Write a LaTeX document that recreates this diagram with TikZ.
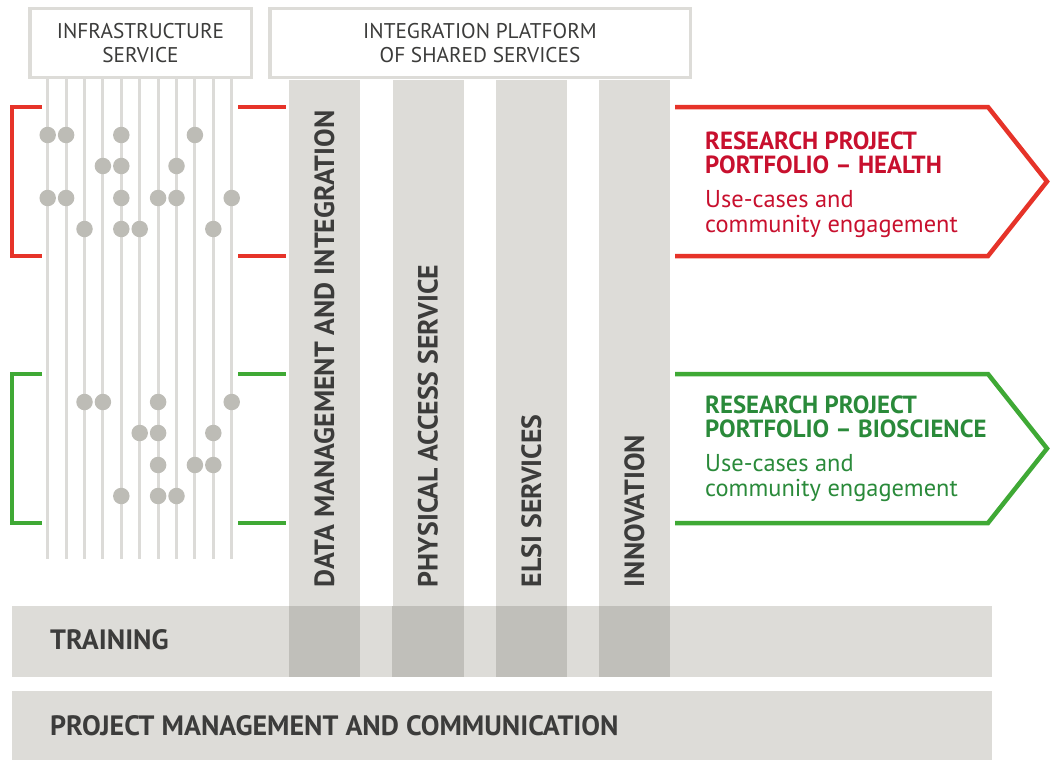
\documentclass[tikz,border=0pt]{standalone}
\usepackage{fontspec}
\setmainfont{PT Sans}
\usetikzlibrary{positioning}
\definecolor{bandgrey}{HTML}{DDDCD8}
\definecolor{overlapgrey}{HTML}{C0BFBA}
\definecolor{dotgrey}{HTML}{BDBCB6}
\definecolor{wiregrey}{HTML}{DCDBD8}
\definecolor{textgrey}{HTML}{3C3C3B}
\definecolor{healthred}{HTML}{E63329}
\definecolor{healthtext}{HTML}{C8102E}
\definecolor{bioline}{HTML}{3FA935}
\definecolor{biotext}{HTML}{2A8A3A}

\tikzset{
  topbox/.style={draw=bandgrey, line width=3.5pt, fill=white, inner sep=0pt,
    minimum height=68.5pt, align=center, text=textgrey,
    font=\fontsize{21.3}{24.5}\selectfont},
  pillar/.style={fill=bandgrey, inner sep=0pt, minimum width=71pt, minimum height=597pt},
  pillarlabel/.style={rotate=90, anchor=west, inner sep=0pt, text=textgrey,
    font=\fontsize{27.8}{30}\selectfont\bfseries},
  band/.style={fill=bandgrey, inner sep=0pt, minimum width=980pt},
  bandlabel/.style={anchor=west, inner sep=0pt, text=textgrey,
    font=\fontsize{28}{30}\selectfont\bfseries},
  wire/.style={wiregrey, line width=3pt},
  dot/.style={circle, fill=dotgrey, inner sep=0pt, minimum size=16.5pt},
  portfolio/.style={line width=4.5pt, line join=miter},
  pftitle/.style={anchor=north west, inner sep=0pt, align=left,
    font=\fontsize{24.8}{24}\selectfont\bfseries},
  pfsub/.style={anchor=north west, inner sep=0pt, align=left,
    font=\fontsize{24.4}{25}\selectfont}
}

\begin{document}
\begin{tikzpicture}[x=1pt, y=-1pt]
  \useasboundingbox (0,0) rectangle (1051,760);

  % header boxes
  \node[topbox, minimum width=221.5pt] (infra) at (140.5,43) {INFRASTRUCTURE\\SERVICE};
  \node[topbox, minimum width=420.5pt] (platform) at (480,43) {INTEGRATION PLATFORM\\OF SHARED SERVICES};

  % infrastructure wires and dots
  \foreach \i in {1,...,11}
    \draw[wire] ({29.3+18.4*\i},79) -- ({29.3+18.4*\i},559);
  \foreach \y/\idx in {135/{1,2,5,9}, 166/{4,5,8}, 198/{1,2,5,7,8,11}, 229/{3,5,6,10},
                       402/{3,4,7,11}, 433/{6,7,10}, 465/{7,9,10}, 496/{5,7,8}}
    \foreach \i in \idx
      \node[dot] (dot-\y-\i) at ({29.3+18.4*\i},\y) {};

  % brackets
  \draw[portfolio, healthred] (42,107) -- (12,107) -- (12,256) -- (42,256);
  \draw[portfolio, healthred] (238,107) -- (286,107) (238,256) -- (286,256);
  \draw[portfolio, bioline] (42,374) -- (12,374) -- (12,523) -- (42,523);
  \draw[portfolio, bioline] (238,374) -- (286,374) (238,523) -- (286,523);

  % shared service pillars
  \node[pillar] (data) at (324.5,378.5) {};
  \node[pillar] (access) at (428,378.5) {};
  \node[pillar] (elsi) at (531.5,378.5) {};
  \node[pillar] (innov) at (634.5,378.5) {};

  % bands
  \node[band, minimum height=71pt] (training) at (502,641.5) {};
  \node[band, minimum height=69pt] (pmc) at (502,725.5) {};
  \foreach \p in {data,access,elsi,innov}
    \fill[overlapgrey] (\p.south west |- training.north) rectangle (\p.south east);

  \node[pillarlabel] (datalbl) at ([yshift=90pt]data.south) {DATA MANAGEMENT AND INTEGRATION};
  \node[pillarlabel] (accesslbl) at ([yshift=90pt]access.south) {PHYSICAL ACCESS SERVICE};
  \node[pillarlabel] (elsilbl) at ([yshift=90pt]elsi.south) {ELSI SERVICES};
  \node[pillarlabel] (innovlbl) at ([yshift=90pt]innov.south) {INNOVATION};

  \node[bandlabel] (traininglbl) at (50,640) {TRAINING};
  \node[bandlabel] (pmclbl) at (50,726) {PROJECT MANAGEMENT AND COMMUNICATION};

  % portfolios
  \draw[portfolio, healthred] (675,107) -- (988,107) -- (1047,181.5) -- (988,256) -- (675,256);
  \node[pftitle, text=healthtext] (healthtitle) at (705,131.5) {RESEARCH PROJECT\\PORTFOLIO -- HEALTH};
  \node[pfsub, text=healthtext] (healthsub) at (705,190.5) {Use-cases and\\community engagement};

  \draw[portfolio, bioline] (675,374) -- (988,374) -- (1047,448.5) -- (988,523) -- (675,523);
  \node[pftitle, text=biotext] (biotitle) at (705,395.5) {RESEARCH PROJECT\\PORTFOLIO -- BIOSCIENCE};
  \node[pfsub, text=biotext] (biosub) at (705,454.5) {Use-cases and\\community engagement};
\end{tikzpicture}
\end{document}
